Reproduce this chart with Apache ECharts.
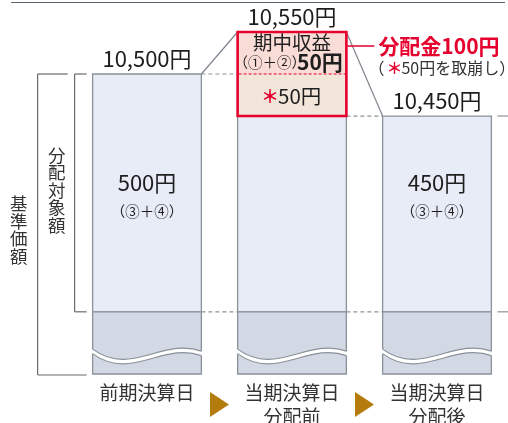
<!DOCTYPE html>
<html><head><meta charset="utf-8">
<script src="https://cdn.jsdelivr.net/npm/echarts@6/dist/echarts.min.js"></script>
<style>html,body{margin:0;padding:0;background:#fff}#c{width:508px;height:423px}</style>
</head><body><div id="c"></div>
<script>
// ---- data ----
const categories = ['前期決算日', '当期決算日\n分配前', '当期決算日\n分配後'];
const navValues = [10500, 10550, 10450];          // 基準価額
const navLabels = ['10,500円', '10,550円', '10,450円'];
const distributable = [500, 550, 450];            // 分配対象額
const periodIncome = [0, 50, 0];                  // 期中収益 (①+②)
const drawdown = [0, 50, 0];                      // 取崩し (*)
const distributableLabels = ['500円', '', '450円'];
const distributionLabel = '分配金100円';

// ---- style ----
const FONT = '"Noto Sans CJK JP","Noto Sans",sans-serif';
const Y_MIN = 9926;
const C_LIGHT = '#e8ecf7', C_DARK = '#d3d9e4', C_EDGE = '#8b9199';
const C_RED = '#e6002e', C_PINK = '#fadcd7', C_BEIGE = '#f2e5d9', C_TXT = '#1e1e1e';

function txt(text, x, y, size, opt) {
  return { type: 'text', z2: 20, style: Object.assign({ text, x, y, fontSize: size, fontFamily: FONT,
    fill: C_TXT, align: 'center', verticalAlign: 'middle' }, opt || {}) };
}
function line(x1, y1, x2, y2, stroke, w, dash) {
  return { type: 'line', z2: 10, shape: { x1, y1, x2, y2 }, style: { stroke, lineWidth: w || 1, lineDash: dash || null } };
}
function wavePath(L, R, y0) {
  const w = R - L;
  return { c1: [L + 0.35 * w, y0 + 28], c2: [L + 0.65 * w, y0 - 12], e: [R, y0 + 2] };
}

function renderItem(params, api) {
  const i = params.dataIndex;
  const bw = api.size([1, 0])[0] * 0.75;
  const geo = k => {
    const p = api.coord([k, navValues[k]]);
    return { cx: p[0], L: p[0] - bw / 2, R: p[0] + bw / 2, yTop: p[1],
      yBase: api.coord([k, navValues[k] - distributable[k]])[1],
      yLight: api.coord([k, navValues[k] - periodIncome[k] - drawdown[k]])[1],
      yBot: api.coord([k, Y_MIN])[1] };
  };
  const g = geo(i);
  const { L, R, cx, yTop, yBase, yBot, yLight } = g;
  const kids = [];
  kids.push({ type: 'rect', z2: 1, shape: { x: L, y: yLight, width: bw, height: yBase - yLight },
    style: { fill: C_LIGHT, stroke: C_EDGE, lineWidth: 1.3 } });
  kids.push({ type: 'rect', z2: 1, shape: { x: L, y: yBase, width: bw, height: yBot - yBase },
    style: { fill: C_DARK, stroke: C_EDGE, lineWidth: 1.3 } });
  const y0 = yBase + (yBot - yBase) * 0.6;
  const a = wavePath(L, R, y0), t = 4.5;
  const band = `M${L - 2} ${y0} L${L} ${y0} C${a.c1[0]} ${a.c1[1]} ${a.c2[0]} ${a.c2[1]} ${a.e[0]} ${a.e[1]} L${R + 2} ${a.e[1]} L${R + 2} ${a.e[1] + t} L${R} ${a.e[1] + t} C${a.c2[0]} ${a.c2[1] + t} ${a.c1[0]} ${a.c1[1] + t} ${L} ${y0 + t} L${L - 2} ${y0 + t} Z`;
  kids.push({ type: 'path', z2: 3, shape: { pathData: band }, style: { fill: '#fff', stroke: null } });
  kids.push({ type: 'path', z2: 4, shape: { pathData: `M${L} ${y0} C${a.c1[0]} ${a.c1[1]} ${a.c2[0]} ${a.c2[1]} ${a.e[0]} ${a.e[1]}` },
    style: { fill: null, stroke: C_EDGE, lineWidth: 1.2 } });
  kids.push({ type: 'path', z2: 4, shape: { pathData: `M${L} ${y0 + t} C${a.c1[0]} ${a.c1[1] + t} ${a.c2[0]} ${a.c2[1] + t} ${a.e[0]} ${a.e[1] + t}` },
    style: { fill: null, stroke: C_EDGE, lineWidth: 1.2 } });

  kids.push(txt(navLabels[i], cx, yTop - 15, 22));
  if (distributableLabels[i]) {
    kids.push(txt(distributableLabels[i], cx, yBase - 129, 22));
    kids.push(txt('（③＋④）', cx, yBase - 100, 14.5));
  }

  const dash = [4, 3];
  if (i < categories.length - 1) {
    const n = geo(i + 1);
    kids.push(line(R, Math.max(yTop, n.yTop), n.L, Math.max(yTop, n.yTop), C_EDGE, 1.2, dash));
    kids.push(line(R, yBase, n.L, yBase, C_EDGE, 1.2, dash));
    kids.push(line(R, yTop, n.L, n.yTop, '#7f858d', 1.2));
    const tx = (R + n.L) / 2;
    kids.push({ type: 'polygon', z2: 5, shape: { points: [[tx - 9.5, yBot + 18], [tx + 9.5, yBot + 30.5], [tx - 9.5, yBot + 43]] },
      style: { fill: '#b47c0c' } });
  } else {
    kids.push(line(R + 6, yTop, 508, yTop, C_EDGE, 1.2));
    kids.push(line(R + 6, yBase, 508, yBase, C_EDGE, 1.2));
  }

  if (periodIncome[i] > 0) {
    const yMid = api.coord([i, navValues[i] - periodIncome[i]])[1];
    kids.push({ type: 'rect', z2: 2, shape: { x: L, y: yTop, width: bw, height: yMid - yTop }, style: { fill: C_PINK } });
    kids.push({ type: 'rect', z2: 2, shape: { x: L, y: yMid, width: bw, height: yLight - yMid }, style: { fill: C_BEIGE } });
    kids.push(line(L + 1, yMid, R - 1, yMid, C_RED, 1.2, [3, 2]));
    kids.push({ type: 'rect', z2: 12, shape: { x: L, y: yTop, width: bw, height: yLight - yTop },
      style: { fill: null, stroke: C_RED, lineWidth: 2.6 } });
    kids.push(txt('期中収益', cx, yTop + 11, 19.5));
    kids.push(txt('（①＋②）', cx + 14, yTop + 30, 14.5, { align: 'right' }));
    kids.push(txt(periodIncome[i] + '円', cx + 5, yTop + 30, 21, { align: 'left', fontWeight: 'bold' }));
    const ym = (yMid + yLight) / 2 + 1;
    kids.push(txt('＊', cx - 13, ym, 18, { align: 'right', fill: C_RED, fontWeight: 'bold' }));
    kids.push(txt(drawdown[i] + '円', cx - 14, ym, 20.5, { align: 'left' }));
    const yc = yTop + 14;
    kids.push(line(R, yc, R + 28, yc, C_RED, 1.5));
    kids.push(txt(distributionLabel, R + 32, yc, 21, { align: 'left', fill: C_RED, fontWeight: 'bold' }));
    const ys = yc + 22;
    kids.push(txt('（', R + 22, ys, 16, { align: 'left', fill: '#333' }));
    kids.push(txt('＊', R + 40, ys, 16, { align: 'left', fill: C_RED, fontWeight: 'bold' }));
    kids.push(txt(drawdown[i] + '円を取崩し）', R + 55, ys, 16, { align: 'left', fill: '#333' }));
  }

  if (i === 0) {
    const xo = L - 55, xi = L - 18;
    kids.push(line(xo, yTop, L - 25, yTop, '#6a6a6a', 1.2));
    kids.push(line(xo, yTop, xo, yBot + 1, '#6a6a6a', 1.2));
    kids.push(line(xo, yBot + 1, L - 6, yBot + 1, '#6a6a6a', 1.2));
    kids.push(line(xi, yTop, L - 6, yTop, '#6a6a6a', 1.2));
    kids.push(line(xi, yTop, xi, yBase, '#6a6a6a', 1.2));
    kids.push(line(xi, yBase, L - 6, yBase, '#6a6a6a', 1.2));
    kids.push(txt('分\n配\n対\n象\n額', (xo + xi) / 2 + 0.5, (yTop + yBase) / 2 - 3, 17.5, { lineHeight: 17.5, fill: '#333' }));
    kids.push(txt('基\n準\n価\n額', xo - 19, (yTop + yBot) / 2 + 6, 17.5, { lineHeight: 17.5, fill: '#333' }));
  }
  return { type: 'group', children: kids };
}

const chart = echarts.init(document.getElementById('c'), null, { renderer: 'canvas' });
chart.setOption({
  animation: false,
  backgroundColor: '#fff',
  grid: { left: 74.5, top: 32, width: 435, height: 342, containLabel: false, outerBoundsMode: 'none' },
  xAxis: { type: 'category', data: categories, axisLine: { show: false }, axisTick: { show: false },
    axisLabel: { fontSize: 19, lineHeight: 24, color: '#333', margin: 7, fontFamily: FONT } },
  yAxis: { type: 'value', min: Y_MIN, max: 10550, show: false, splitLine: { show: false },
    breaks: [{ start: 10000, end: 10217, gap: 0 }], breakArea: { show: false } },
  graphic: [{ type: 'line', shape: { x1: 11, y1: 2.5, x2: 505, y2: 2.5 }, style: { stroke: '#5c6671', lineWidth: 1 } }],
  series: [{ type: 'custom', renderItem, clip: false, data: categories.map((c, k) => [k, navValues[k]]),
    encode: { x: 0, y: 1 } }]
});
</script></body></html>
